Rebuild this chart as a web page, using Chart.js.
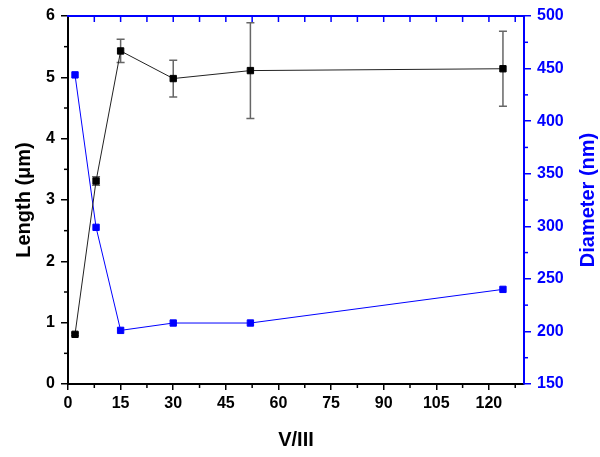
<!DOCTYPE html>
<html>
<head>
<meta charset="utf-8">
<script src="https://cdn.jsdelivr.net/npm/chart.js@4.4.1/dist/chart.umd.min.js"></script>
<style>
html,body{margin:0;padding:0;background:#fff;}
#wrap{position:relative;width:600px;height:457px;}
</style>
</head>
<body>
<div id="wrap"><canvas id="c" width="600" height="457"></canvas></div>
<script>
const ratioVIII = [2, 8, 15, 30, 52, 124];
const lengthUm = [0.81, 3.31, 5.43, 4.98, 5.11, 5.14];
const lengthErr = [0.02, 0.07, 0.19, 0.30, 0.78, 0.61];
const diameterNm = [444, 299, 201, 208, 208, 240];
const xTicks = [0, 15, 30, 45, 60, 75, 90, 105, 120];
const lengthTicks = [0, 1, 2, 3, 4, 5, 6];
const diameterTicks = [150, 200, 250, 300, 350, 400, 450, 500];

const BLUE = '#0000ff';
const FONT = 'Liberation Sans, Arial, sans-serif';

const decor = {
  id: 'decor',
  beforeDatasetsDraw(chart) {
    const ctx = chart.ctx;
    const x = chart.scales.x, y = chart.scales.y;
    ctx.save();
    ctx.strokeStyle = '#666';
    ctx.lineWidth = 1.5;
    lengthUm.forEach((v, i) => {
      const px = x.getPixelForValue(ratioVIII[i]);
      const hi = y.getPixelForValue(v + lengthErr[i]);
      const lo = y.getPixelForValue(v - lengthErr[i]);
      ctx.beginPath();
      ctx.moveTo(px, hi); ctx.lineTo(px, lo);
      ctx.moveTo(px - 4, hi); ctx.lineTo(px + 4, hi);
      ctx.moveTo(px - 4, lo); ctx.lineTo(px + 4, lo);
      ctx.stroke();
    });
    ctx.restore();
  },
  afterDraw(chart) {
    const ctx = chart.ctx;
    const a = chart.chartArea;
    const x = chart.scales.x, y = chart.scales.y, y1 = chart.scales.y1;
    ctx.save();
    ctx.lineWidth = 1.5;
    // top border (blue)
    ctx.strokeStyle = BLUE;
    ctx.lineWidth = 2;
    ctx.beginPath(); ctx.moveTo(a.left - 1, a.top); ctx.lineTo(a.right + 1, a.top); ctx.stroke();
    ctx.lineWidth = 1.5;
    // top ticks inward (major + minor)
    for (let v = 7.5; v < 130; v += 7.5) {
      const px = x.getPixelForValue(v);
      ctx.beginPath(); ctx.moveTo(px, a.top); ctx.lineTo(px, a.top + 6); ctx.stroke();
    }
    // bottom minor ticks
    ctx.strokeStyle = '#000';
    for (let v = 7.5; v < 130; v += 15) {
      const px = x.getPixelForValue(v);
      ctx.beginPath(); ctx.moveTo(px, a.bottom); ctx.lineTo(px, a.bottom + 4); ctx.stroke();
    }
    // left minor ticks
    for (let v = 0.5; v < 6; v += 1) {
      const py = y.getPixelForValue(v);
      ctx.beginPath(); ctx.moveTo(a.left, py); ctx.lineTo(a.left - 4, py); ctx.stroke();
    }
    // right minor ticks
    ctx.strokeStyle = BLUE;
    for (let v = 175; v < 500; v += 50) {
      const py = y1.getPixelForValue(v);
      ctx.beginPath(); ctx.moveTo(a.right, py); ctx.lineTo(a.right + 4, py); ctx.stroke();
    }
    // axis titles
    const cy = (a.top + a.bottom) / 2;
    ctx.font = 'bold 20px ' + FONT;
    ctx.textAlign = 'center';
    ctx.textBaseline = 'middle';
    ctx.fillStyle = '#000';
    ctx.save();
    ctx.translate(24, cy);
    ctx.rotate(-Math.PI / 2);
    ctx.fillText('Length (\u03bcm)', 0, 0);
    ctx.restore();
    ctx.save();
    ctx.fillStyle = BLUE;
    ctx.translate(588, cy);
    ctx.rotate(-Math.PI / 2);
    ctx.fillText('Diameter (nm)', 0, 0);
    ctx.restore();
    ctx.fillText('V/III', (a.left + a.right) / 2, 440);
    ctx.restore();
  }
};

new Chart(document.getElementById('c'), {
  type: 'line',
  data: {
    datasets: [
      {
        label: 'Length',
        data: ratioVIII.map((v, i) => ({x: v, y: lengthUm[i]})),
        yAxisID: 'y',
        borderColor: '#222',
        backgroundColor: '#000',
        borderWidth: 1,
        pointStyle: 'rect',
        pointRadius: 4.5,
        pointBorderWidth: 1,
        pointBorderColor: '#000',
        tension: 0
      },
      {
        label: 'Diameter',
        data: ratioVIII.map((v, i) => ({x: v, y: diameterNm[i]})),
        yAxisID: 'y1',
        borderColor: BLUE,
        backgroundColor: BLUE,
        borderWidth: 1,
        pointStyle: 'rect',
        pointRadius: 4.5,
        pointBorderWidth: 1,
        pointBorderColor: BLUE,
        tension: 0
      }
    ]
  },
  options: {
    responsive: false,
    animation: false,
    devicePixelRatio: 1,
    layout: {padding: {left: 0, right: 0, top: 16, bottom: 0}},
    plugins: {legend: {display: false}, tooltip: {enabled: false}},
    scales: {
      x: {
        type: 'linear',
        min: 0, max: 130,
        afterBuildTicks: s => { s.ticks = xTicks.map(v => ({value: v})); },
        afterFit: s => { s.height = 73; },
        grid: {drawOnChartArea: false, drawTicks: true, tickLength: 6, color: '#000', lineWidth: 1.5},
        border: {display: true, color: '#000', width: 2},
        ticks: {color: '#000', padding: 4, font: {family: FONT, size: 16, weight: 'bold'}, maxRotation: 0}
      },
      y: {
        type: 'linear',
        position: 'left',
        min: 0, max: 6,
        afterBuildTicks: s => { s.ticks = lengthTicks.map(v => ({value: v})); },
        afterFit: s => { s.width = 68; },
        grid: {drawOnChartArea: false, drawTicks: true, tickLength: 7, color: '#000', lineWidth: 1.5},
        border: {display: true, color: '#000', width: 2},
        ticks: {color: '#000', padding: 6, font: {family: FONT, size: 16, weight: 'bold'}}
      },
      y1: {
        type: 'linear',
        position: 'right',
        min: 150, max: 500,
        afterBuildTicks: s => { s.ticks = diameterTicks.map(v => ({value: v})); },
        afterFit: s => { s.width = 76; },
        grid: {drawOnChartArea: false, drawTicks: true, tickLength: 7, color: BLUE, lineWidth: 1.5},
        border: {display: true, color: BLUE, width: 2},
        ticks: {color: BLUE, padding: 6, font: {family: FONT, size: 16, weight: 'bold'}}
      }
    }
  },
  plugins: [decor]
});
</script>
</body>
</html>
